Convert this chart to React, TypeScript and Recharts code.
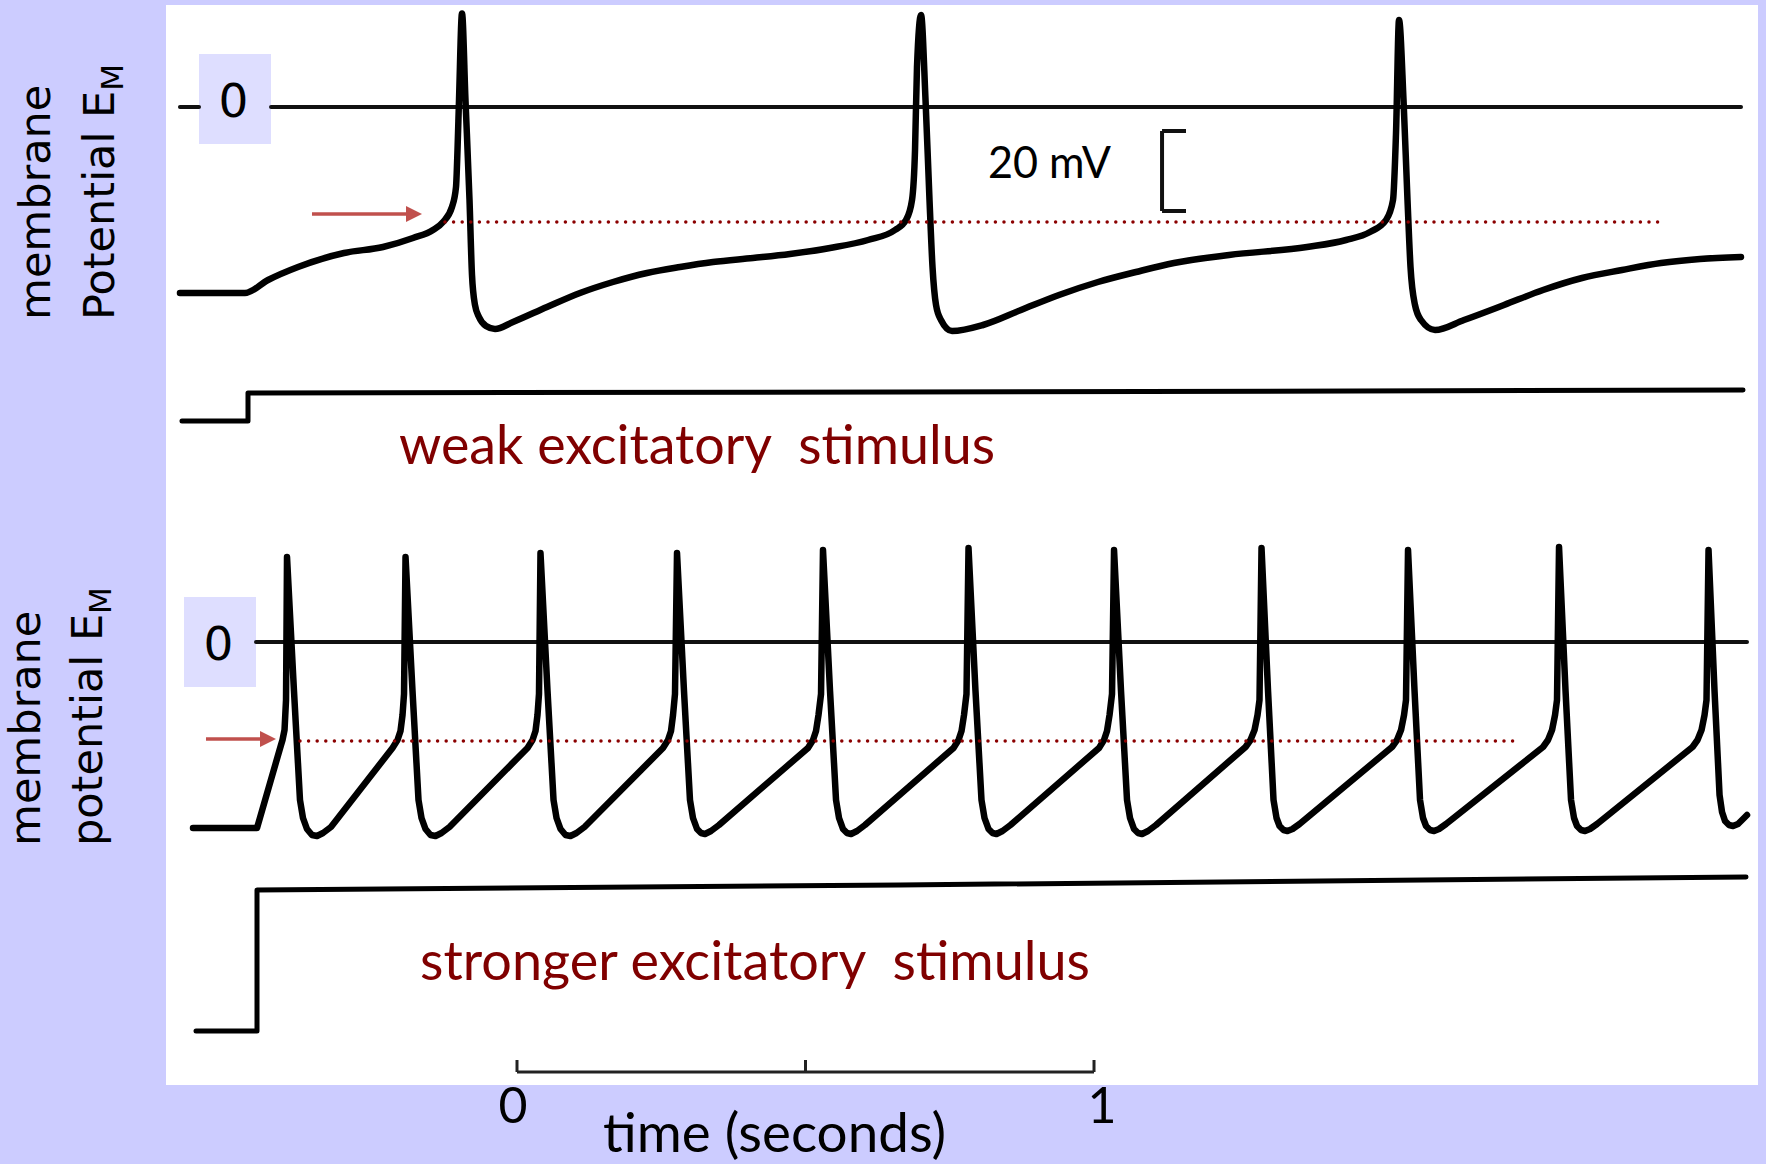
import React from 'react'
import { LineChart, Line, XAxis, YAxis, ReferenceLine, ReferenceArea, ReferenceDot } from 'recharts'

// time in seconds (scale bar 0..1 s), membrane potential in mV
const weakTrace: [number, number][] = [
  [-0.5841, -46.5], [-0.4714, -46.5], [-0.4315, -43.25], [-0.3795, -40], [-0.2998, -36.5],
  [-0.2322, -35], [-0.1802, -32.75], [-0.1456, -30.75], [-0.1282, -28.75], [-0.1127, -25],
  [-0.1057, -20], [-0.1031, -10.75], [-0.1005, 1.75], [-0.0953, 23.4], [-0.0893, 1.75],
  [-0.0823, -23.25], [-0.078, -42], [-0.0728, -49.5], [-0.0659, -52.5], [-0.0537, -54.75],
  [-0.0381, -55.5], [-0.0069, -53.75], [0.052, -50], [0.1092, -46.5], [0.1664, -43.75],
  [0.2253, -41.5], [0.2825, -40], [0.3397, -38.75], [0.409, -37.75], [0.4731, -36.75],
  [0.5425, -35.25], [0.6083, -33.25], [0.6551, -30.75], [0.6742, -28.25], [0.6846, -23.25],
  [0.6898, -10.75], [0.6932, 10], [0.7002, 23], [0.708, 1.75], [0.7149, -23.25],
  [0.7201, -40], [0.7262, -49.5], [0.7348, -53.25], [0.7539, -56], [0.8076, -54.5],
  [0.8735, -50.75], [0.9393, -47], [1.0069, -43.75], [1.0728, -41.25], [1.1386, -39],
  [1.234, -37], [1.3692, -35], [1.4367, -33.25], [1.4783, -31.25], [1.5061, -28.25],
  [1.5182, -23.25], [1.5234, -6.5], [1.5286, 21.75], [1.5364, 1.75], [1.5433, -23.25],
  [1.5485, -40], [1.5563, -49.5], [1.5667, -53.25], [1.591, -55.75], [1.6412, -53.25],
  [1.7106, -49.5], [1.7782, -45.75], [1.8458, -42.75], [1.9151, -40.75], [1.9827, -39],
  [2.0503, -38], [2.1213, -37.5],
]

const strongTrace: [number, number][] = [
  [-0.5615, -46.5], [-0.4506, -46.5], [-0.409, -25.75], [-0.4064, -24.5], [-0.4029, -22],
  [-0.4003, -14.5], [-0.3986, 21.25],
  [-0.3865, -12.25], [-0.3761, -39.5], [-0.3709, -44], [-0.364, -46.75], [-0.3553, -48.25],
  [-0.3466, -48.5], [-0.3362, -47.75], [-0.3224, -46.25],
  [-0.2158, -26.5], [-0.2071, -24.5], [-0.2019, -22.25], [-0.1984, -18.25], [-0.1958, -13], [-0.1932, 21.25],
  [-0.1811, -12.25], [-0.1707, -39.5], [-0.1655, -44], [-0.1586, -46.75], [-0.1499, -48.25],
  [-0.1412, -48.5], [-0.1308, -47.75], [-0.117, -46.25],
  [0.0182, -26.5], [0.0269, -24.5], [0.0321, -22.25], [0.0355, -18.25], [0.0381, -13], [0.0407, 22.25],
  [0.0529, -12.25], [0.0633, -39.5], [0.0685, -44], [0.0754, -46.75], [0.0841, -48.25],
  [0.0927, -48.5], [0.1031, -47.75], [0.117, -46.25],
  [0.253, -26.5], [0.2617, -24.5], [0.2669, -22.25], [0.2704, -18.25], [0.2738, -13], [0.2773, 22.25],
  [0.2894, -12.25], [0.2998, -39.5], [0.305, -44], [0.312, -46.75], [0.3189, -47.75],
  [0.3258, -48], [0.3362, -47.25], [0.3501, -45.75],
  [0.5043, -26.5], [0.513, -24.5], [0.5182, -22.25], [0.5225, -18.25], [0.5269, -13], [0.5303, 23],
  [0.5425, -12.25], [0.5529, -39.5], [0.5581, -44], [0.565, -46.75], [0.5719, -47.75],
  [0.5789, -48], [0.5893, -47.25], [0.6031, -45.75],
  [0.7565, -26.5], [0.7652, -24.5], [0.7704, -22.25], [0.7747, -18.25], [0.779, -13], [0.7825, 23.5],
  [0.7946, -12.25], [0.805, -39.5], [0.8102, -44], [0.8172, -46.75], [0.8241, -47.75],
  [0.831, -48], [0.8414, -47.25], [0.8553, -45.75],
  [1.0087, -26.5], [1.0173, -24.5], [1.0225, -22.25], [1.0269, -18.25], [1.0312, -13], [1.0347, 23],
  [1.0468, -12.25], [1.0572, -39.5], [1.0624, -44], [1.0693, -46.75], [1.0763, -47.75],
  [1.0832, -48], [1.0936, -47.25], [1.1075, -45.75],
  [1.2626, -26.25], [1.2712, -24.5], [1.2782, -22], [1.2834, -18.25], [1.2868, -14.5], [1.2903, 23.5],
  [1.3016, -12.25], [1.3111, -39.5], [1.3163, -44], [1.3215, -46], [1.3284, -47],
  [1.3354, -47.25], [1.344, -46.75], [1.3562, -45.5],
  [1.5165, -26.25], [1.5251, -24.5], [1.5321, -22], [1.5373, -18.25], [1.5407, -14.5], [1.5442, 23],
  [1.5555, -12.25], [1.565, -39.5], [1.5702, -44], [1.5754, -46], [1.5823, -47],
  [1.5893, -47.25], [1.5979, -46.75], [1.6101, -45.5],
  [1.7782, -26.25], [1.7868, -24.5], [1.7938, -22], [1.799, -18.25], [1.8024, -14.5], [1.8059, 23.75],
  [1.8172, -12.25], [1.8267, -39.5], [1.8319, -44], [1.8371, -46], [1.844, -47],
  [1.851, -47.25], [1.8596, -46.75], [1.8718, -45.5],
  [2.0373, -26.25], [2.0459, -24.5], [2.0529, -22], [2.0581, -18.25], [2.0615, -14.5], [2.065, 23],
  [2.0754, -12.25], [2.0841, -38.25], [2.0884, -42.5], [2.0936, -44.75], [2.1005, -45.75],
  [2.1075, -46], [2.1161, -45.5], [2.1248, -44.25], [2.1317, -43.25],
]

// injected current (nA)
const weakStimulus: [number, number][] = [
  [-0.5806, 0], [-0.4662, 0], [-0.4662, 0.2], [0.6655, 0.207], [2.1248, 0.221],
]
const strongStimulus: [number, number][] = [
  [-0.5563, 0], [-0.4506, 0], [-0.4506, 1.007], [0.6638, 1.043], [2.13, 1.1],
]

// 0 mV reference traces (top one interrupted by the "0" box)
const zeroTop: [number, number | null][] = [[-0.5841, 0], [-0.5511, 0], [-0.49, null], [-0.4263, 0], [2.1213, 0]]
const zeroBottom: [number, number | null][] = [[-0.4523, 0], [2.1317, 0]]

// firing threshold (mV)
const thresholdTop: [number, number][] = [[-0.1248, -28.75], [1.9792, -28.75]]
const thresholdBottom: [number, number][] = [[-0.3761, -24.75], [1.7279, -24.75]]

const scaleTicks = [0, 0.5, 1]

const rows = (pts: [number, number | null][]) => pts.map(([t, v]) => ({ t, v }))

const calibri = "Lato, 'Open Sans', sans-serif"
const verdana = "'DejaVu Sans', Verdana, sans-serif"

const textAt = (label: string, o: { size: number; family: string; fill?: string; anchor?: string; width?: number }) =>
  (p: any) => (
    <text
      x={p.cx}
      y={p.cy}
      fontSize={o.size}
      fontFamily={o.family}
      fill={o.fill ?? '#000'}
      textAnchor={o.anchor ?? 'start'}
      textLength={o.width}
      lengthAdjust={o.width ? 'spacingAndGlyphs' : undefined}
      style={{ whiteSpace: 'pre' }}
    >
      {label}
    </text>
  )

const sideLabel = (main: string, sub?: string) => (p: any) => (
  <text x={p.cx} y={p.cy} transform={`rotate(-90 ${p.cx} ${p.cy})`} fontFamily={verdana} fontSize={43} fill="#000">
    {main}
    {sub ? <tspan fontSize={31} dy={9}>{sub}</tspan> : null}
  </text>
)

const Arrow = (p: any) => {
  const { x1, y1, x2, y2 } = p
  return (
    <g>
      <line x1={x1} y1={y1} x2={x2 - 12} y2={y2} stroke="#C0504D" strokeWidth={3.5} />
      <polygon points={`${x2},${y2} ${x2 - 16},${y2 - 8} ${x2 - 16},${y2 + 8}`} fill="#C0504D" />
    </g>
  )
}

const zeroBoxLabel = {
  content: (p: any) => {
    const vb = p.viewBox
    return (
      <text x={vb.x + vb.width / 2 - 1.5} y={vb.y + vb.height / 2 + 18} textAnchor="middle" fontFamily={verdana} fontSize={47} fill="#000">
        0
      </text>
    )
  },
}

const traceProps = {
  dataKey: 'v',
  dot: false,
  activeDot: false,
  isAnimationActive: false,
  strokeLinecap: 'round' as const,
  strokeLinejoin: 'round' as const,
}

export default function App() {
  return (
    <div style={{ position: 'absolute', left: 0, top: 0, width: 1766, height: 1164, background: '#CCCCFF', overflow: 'hidden' }}>
      <div style={{ position: 'absolute', left: 166, top: 5, width: 1592, height: 1080, background: '#fff' }} />
      <div style={{ position: 'absolute', left: 0, top: 0 }}>
        <LineChart width={1766} height={1164} margin={{ top: 0, right: 0, bottom: 0, left: 0 }}>
          <XAxis dataKey="t" type="number" domain={[-0.896, 2.1646]} allowDataOverflow hide />
          <YAxis yAxisId="top" type="number" domain={[-264.25, 26.75]} allowDataOverflow hide />
          <YAxis yAxisId="bottom" type="number" domain={[-130.5, 160.5]} allowDataOverflow hide />
          <YAxis yAxisId="stimTop" type="number" domain={[-5.3071, 3.0071]} allowDataOverflow hide />
          <YAxis yAxisId="stimBottom" type="number" domain={[-0.95, 7.3643]} allowDataOverflow hide />

          <ReferenceArea yAxisId="top" x1={-0.5511} x2={-0.4263} y1={-9.25} y2={13.25} fill="#DEDEFF" fillOpacity={1} stroke="none" label={zeroBoxLabel} />
          <ReferenceArea yAxisId="bottom" x1={-0.5771} x2={-0.4523} y1={-11.25} y2={11.25} fill="#DEDEFF" fillOpacity={1} stroke="none" label={zeroBoxLabel} />

          <Line {...traceProps} yAxisId="top" data={rows(zeroTop)} type="linear" stroke="#111" strokeWidth={4} connectNulls={false} />
          <Line {...traceProps} yAxisId="bottom" data={rows(zeroBottom)} type="linear" stroke="#111" strokeWidth={4} />

          <Line {...traceProps} yAxisId="top" data={rows(weakTrace)} type="monotone" stroke="#000" strokeWidth={6.5} />
          <Line {...traceProps} yAxisId="bottom" data={rows(strongTrace)} type="linear" stroke="#000" strokeWidth={6.5} />

          <Line {...traceProps} yAxisId="stimTop" data={rows(weakStimulus)} type="linear" stroke="#000" strokeWidth={5} />
          <Line {...traceProps} yAxisId="stimBottom" data={rows(strongStimulus)} type="linear" stroke="#000" strokeWidth={5} />

          <Line {...traceProps} yAxisId="top" data={rows(thresholdTop)} type="linear" stroke="#8B0000" strokeWidth={3.5} strokeDasharray="0 8.6" />
          <Line {...traceProps} yAxisId="bottom" data={rows(thresholdBottom)} type="linear" stroke="#8B0000" strokeWidth={3.5} strokeDasharray="0 8.6" />

          <ReferenceLine yAxisId="top" segment={[{ x: -0.3553, y: -26.75 }, { x: -0.1646, y: -26.75 }]} shape={Arrow} />
          <ReferenceLine yAxisId="bottom" segment={[{ x: -0.539, y: -24.25 }, { x: -0.4177, y: -24.25 }]} shape={Arrow} />

          {/* 20 mV calibration bracket */}
          <ReferenceLine yAxisId="top" segment={[{ x: 1.1179, y: -6 }, { x: 1.1179, y: -26 }]} stroke="#111" strokeWidth={4} />
          <ReferenceLine yAxisId="top" segment={[{ x: 1.1179, y: -6 }, { x: 1.1594, y: -6 }]} stroke="#111" strokeWidth={4} />
          <ReferenceLine yAxisId="top" segment={[{ x: 1.1179, y: -26 }, { x: 1.1594, y: -26 }]} stroke="#111" strokeWidth={4} />

          {/* 1 s time scale bar */}
          <ReferenceLine yAxisId="bottom" segment={[{ x: 0, y: -107.5 }, { x: 1, y: -107.5 }]} stroke="#222" strokeWidth={3} />
          {scaleTicks.map((s) => (
            <ReferenceLine key={s} yAxisId="bottom" segment={[{ x: s, y: -107.5 }, { x: s, y: -104.5 }]} stroke="#222" strokeWidth={3} />
          ))}

          <ReferenceDot yAxisId="top" x={-0.8094} y={-53.25} r={1} shape={sideLabel('membrane')} />
          <ReferenceDot yAxisId="top" x={-0.6984} y={-53.25} r={1} shape={sideLabel('Potential E', 'M')} />
          <ReferenceDot yAxisId="bottom" x={-0.8267} y={-51} r={1} shape={sideLabel('membrane')} />
          <ReferenceDot yAxisId="bottom" x={-0.7192} y={-51} r={1} shape={sideLabel('potential E', 'M')} />

          <ReferenceDot yAxisId="top" x={0.8163} y={-17.75} r={1} shape={textAt('20 mV', { size: 44, family: calibri, width: 123 })} />
          <ReferenceDot yAxisId="top" x={-0.2045} y={-89.25} r={1} shape={textAt('weak excitatory  stimulus', { size: 55, family: calibri, fill: '#800000', width: 596 })} />
          <ReferenceDot yAxisId="bottom" x={-0.1681} y={-84.5} r={1} shape={textAt('stronger excitatory  stimulus', { size: 55, family: calibri, fill: '#800000', width: 670 })} />

          <ReferenceDot yAxisId="bottom" x={-0.0069} y={-120.25} r={1} shape={textAt('0', { size: 50, family: calibri, anchor: 'middle' })} />
          <ReferenceDot yAxisId="bottom" x={1.0139} y={-120.25} r={1} shape={textAt('1', { size: 50, family: calibri, anchor: 'middle' })} />
          <ReferenceDot yAxisId="bottom" x={0.4463} y={-127.5} r={1} shape={textAt('time (seconds)', { size: 55, family: calibri, anchor: 'middle', width: 343 })} />
        </LineChart>
      </div>
    </div>
  )
}
